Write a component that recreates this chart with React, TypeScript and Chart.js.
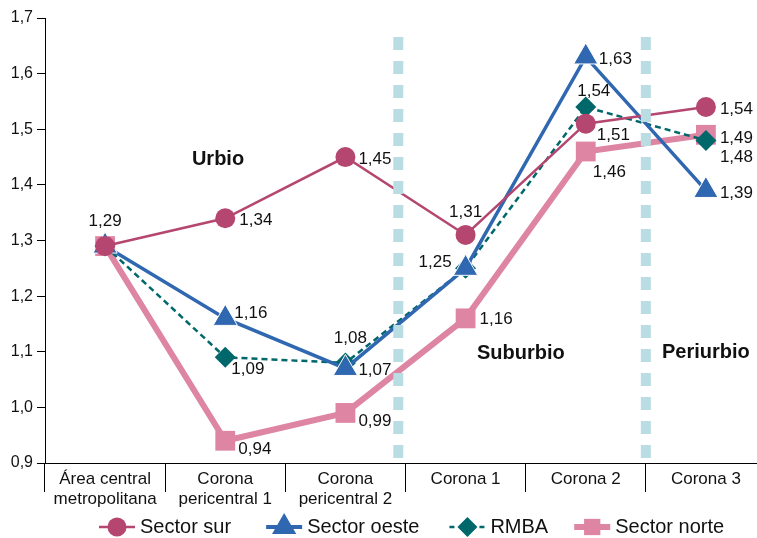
import React, { useEffect, useRef } from 'react';
import { Chart, registerables } from 'chart.js';

Chart.register(...registerables);

const FONT = '"Liberation Sans", Arial, Helvetica, sans-serif';

// ---- Data ----
const categories: (string | string[])[] = [
  ['Área central', 'metropolitana'],
  ['Corona', 'pericentral 1'],
  ['Corona', 'pericentral 2'],
  'Corona 1',
  'Corona 2',
  'Corona 3',
];
const seriesNames = ['Sector sur', 'Sector oeste', 'RMBA', 'Sector norte'];
const sectorSur = [1.29, 1.34, 1.45, 1.31, 1.51, 1.54];
const sectorOeste = [1.29, 1.16, 1.07, 1.25, 1.63, 1.39];
const rmba = [1.29, 1.09, 1.08, 1.25, 1.54, 1.48];
const sectorNorte = [1.29, 0.94, 0.99, 1.16, 1.46, 1.49];
const yMin = 0.9;
const yMax = 1.7;
const yStep = 0.1;
const zoneNames = ['Urbio', 'Suburbio', 'Periurbio'];
// zone label anchors in data space: [category index, value]
const zoneAnchors: [number, number][] = [
  [0.94, 1.445],
  [3.46, 1.096],
  [5.0, 1.098],
];
// zone divider positions in category-index space
const zoneDividers = [2.44, 4.5];
const dividerTopValue = 1.666;

// ---- Styles ----
const COLORS = ['#b5466f', '#2f67b1', '#00676a', '#dd85a2'];
const DIVIDER = '#b9dde2';

type Place = [number, number, CanvasTextAlign] | null;
const labelPlacement: Place[][] = [
  [[0, -25, 'center'], [14, 2, 'left'], [13, 2, 'left'], [0, -23, 'center'], [11, 12, 'left'], [14, 2, 'left']],
  [null, [9, -5, 'left'], [13, 2, 'left'], [-14, -6, 'right'], [13, 2, 'left'], [14, 3, 'left']],
  [null, [6, 12, 'left'], [5, -25, 'center'], null, [8, -16, 'center'], [14, 17, 'left']],
  [null, [13, 9, 'left'], [13, 8, 'left'], [14, 1, 'left'], [7, 21, 'left'], [14, 3, 'left']],
];

const legendStyles = [
  { marker: 'circle', r: 9.5, lw: 2.5, dash: [] as number[], gap: 35 },
  { marker: 'triangle', r: 14, lw: 4, dash: [] as number[], gap: 30 },
  { marker: 'diamond', r: 10, lw: 2.5, dash: [5, 5], gap: 26 },
  { marker: 'square', r: 11.5, lw: 6, dash: [] as number[], gap: 0 },
];

const fmt = (v: number, d: number) => v.toFixed(d).replace('.', ',');

function drawMarker(ctx: CanvasRenderingContext2D, kind: string, x: number, y: number, r: number, color: string) {
  ctx.save();
  ctx.fillStyle = color;
  ctx.beginPath();
  if (kind === 'circle') {
    ctx.arc(x, y, r, 0, Math.PI * 2);
  } else if (kind === 'triangle') {
    ctx.moveTo(x, y - r);
    ctx.lineTo(x + 0.866 * r, y + 0.5 * r);
    ctx.lineTo(x - 0.866 * r, y + 0.5 * r);
    ctx.closePath();
  } else if (kind === 'diamond') {
    ctx.moveTo(x, y - r);
    ctx.lineTo(x + r, y);
    ctx.lineTo(x, y + r);
    ctx.lineTo(x - r, y);
    ctx.closePath();
  } else {
    const h = r * Math.SQRT1_2;
    ctx.rect(x - h, y - h, 2 * h, 2 * h);
  }
  ctx.fill();
  ctx.restore();
}

const overlayPlugin = {
  id: 'overlay',
  afterDatasetsDraw(chart: any) {
    const ctx: CanvasRenderingContext2D = chart.ctx;
    const xs = chart.scales.x;
    const ys = chart.scales.y;
    const area = chart.chartArea;

    // dotted zone dividers
    ctx.save();
    ctx.strokeStyle = DIVIDER;
    ctx.lineWidth = 10;
    ctx.setLineDash([13, 11]);
    zoneDividers.forEach((d) => {
      const px = xs.getPixelForValue(d);
      ctx.beginPath();
      ctx.moveTo(px, ys.getPixelForValue(dividerTopValue));
      ctx.lineTo(px, area.bottom - 3);
      ctx.stroke();
    });
    ctx.restore();

    // zone labels
    ctx.save();
    ctx.fillStyle = '#111';
    ctx.font = `bold 20px ${FONT}`;
    ctx.textAlign = 'center';
    ctx.textBaseline = 'middle';
    zoneNames.forEach((name, i) => {
      const [ix, v] = zoneAnchors[i];
      ctx.fillText(name, xs.getPixelForValue(ix), ys.getPixelForValue(v));
    });
    ctx.restore();

    // data labels
    ctx.save();
    ctx.fillStyle = '#111';
    ctx.font = `17px ${FONT}`;
    ctx.textBaseline = 'middle';
    chart.data.datasets.forEach((ds: any, di: number) => {
      const meta = chart.getDatasetMeta(di);
      meta.data.forEach((pt: any, i: number) => {
        const p = labelPlacement[di][i];
        if (!p) return;
        ctx.textAlign = p[2];
        ctx.fillText(fmt(ds.data[i], 2), pt.x + p[0], pt.y + p[1]);
      });
    });
    ctx.restore();
  },
  afterDraw(chart: any) {
    const ctx: CanvasRenderingContext2D = chart.ctx;
    const area = chart.chartArea;
    ctx.save();
    ctx.font = `20px ${FONT}`;
    ctx.textBaseline = 'middle';
    ctx.textAlign = 'left';
    const y = 527;
    let x = area.left + 54;
    chart.data.datasets.forEach((ds: any, i: number) => {
      const st = legendStyles[i];
      const color = COLORS[i];
      ctx.save();
      ctx.strokeStyle = color;
      ctx.lineWidth = st.lw;
      ctx.setLineDash(st.dash);
      ctx.beginPath();
      ctx.moveTo(x, y);
      ctx.lineTo(x + 36, y);
      ctx.stroke();
      ctx.restore();
      drawMarker(ctx, st.marker, x + 18, y, st.r, color);
      ctx.fillStyle = '#111';
      ctx.fillText(ds.label, x + 41, y);
      x += 41 + ctx.measureText(ds.label).width + st.gap;
    });
    ctx.restore();
  },
};

export default function App() {
  const ref = useRef<HTMLCanvasElement>(null);
  useEffect(() => {
    if (!ref.current) return;
    const values = [sectorSur, sectorOeste, rmba, sectorNorte];
    const chart = new Chart(ref.current, {
      type: 'line',
      data: {
        labels: categories as any,
        datasets: [
          {
            label: seriesNames[0],
            data: values[0],
            borderColor: COLORS[0],
            backgroundColor: COLORS[0],
            borderWidth: 2.5,
            pointStyle: 'circle',
            pointRadius: 10,
            pointBorderWidth: 0,
            pointBackgroundColor: COLORS[0],
          },
          {
            label: seriesNames[1],
            data: values[1],
            borderColor: COLORS[1],
            backgroundColor: COLORS[1],
            borderWidth: 3.5,
            pointStyle: 'triangle',
            pointRadius: 14,
            pointBorderWidth: 1,
            pointBorderColor: '#ffffff',
            pointBackgroundColor: COLORS[1],
          },
          {
            label: seriesNames[2],
            data: values[2],
            borderColor: COLORS[2],
            backgroundColor: COLORS[2],
            borderWidth: 2.5,
            borderDash: [6, 4],
            pointStyle: 'rectRot',
            pointRadius: 10.5,
            pointBorderWidth: 0,
            pointBackgroundColor: COLORS[2],
          },
          {
            label: seriesNames[3],
            data: values[3],
            borderColor: COLORS[3],
            backgroundColor: COLORS[3],
            borderWidth: 6,
            pointStyle: 'rect',
            pointRadius: 14,
            pointBorderWidth: 0,
            pointBackgroundColor: COLORS[3],
          },
        ],
      },
      options: {
        responsive: false,
        animation: false,
        layout: { padding: { top: 18, right: 10, left: 0, bottom: 0 } },
        plugins: {
          legend: { display: false },
          tooltip: { enabled: false },
        },
        scales: {
          x: {
            type: 'category',
            offset: true,
            grid: { offset: true, drawOnChartArea: false, tickLength: 29, color: '#000', lineWidth: 1 },
            border: { color: '#000', width: 1 },
            ticks: {
              font: { size: 17, family: FONT },
              color: '#111',
              padding: -23,
              maxRotation: 0,
              autoSkip: false,
            },
            afterFit: (s: any) => {
              s.height = 75;
            },
          },
          y: {
            min: yMin,
            max: yMax,
            ticks: {
              stepSize: yStep,
              callback: (v: any) => fmt(Number(v), 1),
              font: { size: 16, family: FONT },
              color: '#111',
              padding: 4,
            },
            grid: { drawOnChartArea: false, tickLength: 8, color: '#000' },
            border: { color: '#000', width: 1 },
            afterFit: (s: any) => {
              s.width = 45;
            },
          },
        },
      },
      plugins: [overlayPlugin],
    });
    return () => chart.destroy();
  }, []);

  return (
    <div style={{ position: 'absolute', left: 0, top: 0, width: 757, height: 538, overflow: 'hidden', background: '#fff' }}>
      <canvas ref={ref} width={781} height={538} style={{ display: 'block', width: 781, height: 538 }} />
    </div>
  );
}
